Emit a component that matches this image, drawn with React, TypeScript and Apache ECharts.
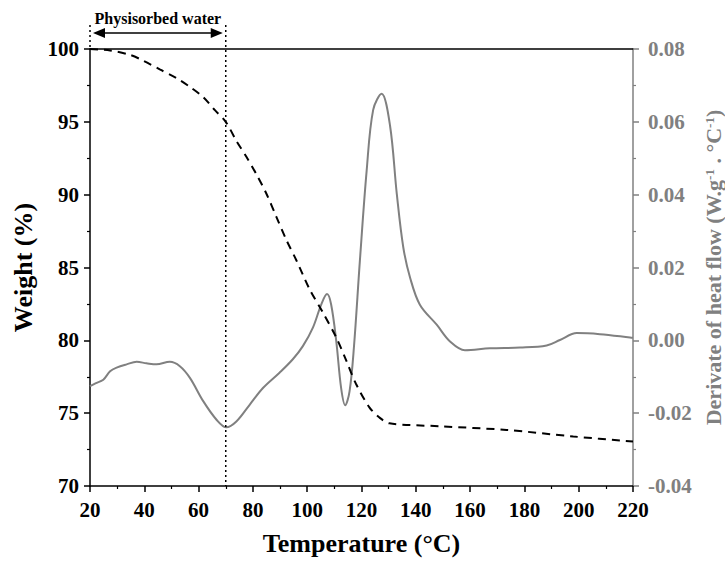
import React, { useEffect, useRef } from "react";
import * as echarts from "echarts";

const tgTemp = [20, 27.4, 34.7, 39.6, 45.7, 51.9, 56.8, 61.7, 66, 70, 73.9, 77.6, 81.3, 84.9, 88.6, 92.3, 96, 100.9, 105.8, 110.7, 114.4, 118, 122.9, 126.6, 130.3, 148.9, 173.4, 198, 220];
const tgWeight = [100, 99.9, 99.6, 99.2, 98.6, 98.0, 97.4, 96.7, 95.8, 95.0, 93.7, 92.6, 91.4, 90.1, 88.5, 86.9, 85.5, 83.5, 81.9, 80.2, 78.6, 77.0, 75.4, 74.7, 74.3, 74.1, 73.85, 73.4, 73.05];

const dtgTemp = [20, 22, 24.9, 27.4, 29.8, 33.5, 37.2, 40.8, 44.5, 49.4, 53.1, 56.8, 61.7, 66.6, 70.2, 73.9, 78.8, 83.7, 89.8, 94.7, 98.4, 102.1, 105.2, 107.3, 108.8, 110.7, 112.5, 114, 115.6, 117.2, 119.4, 121.9, 124.3, 127.4, 130.5, 133, 135.4, 137.9, 141.5, 147.7, 152.6, 158.1, 167.3, 178.4, 188.2, 193.1, 199.3, 207.8, 218.9, 220];
const dtgValue = [-0.0126, -0.0118, -0.0108, -0.0085, -0.0075, -0.0066, -0.0059, -0.0063, -0.0066, -0.0059, -0.0071, -0.0103, -0.0167, -0.0218, -0.0239, -0.0223, -0.0177, -0.0131, -0.0089, -0.0052, -0.0016, 0.0035, 0.0099, 0.0127, 0.0099, -0.0002, -0.0131, -0.0178, -0.014, -0.002, 0.0218, 0.0466, 0.0633, 0.0677, 0.059, 0.0402, 0.0255, 0.0172, 0.0098, 0.0043, -0.0003, -0.0027, -0.0022, -0.002, -0.0014, 0.0001, 0.002, 0.0017, 0.0008, 0.0007];

const xTicks = { min: 20, max: 220, interval: 20 };
const weightTicks = { min: 70, max: 100, interval: 5 };
const dtgTicks = { min: -0.04, max: 0.08, interval: 0.02 };

const FONT = "'Liberation Serif', 'Times New Roman', serif";
const GRAY = "#808080";
const TICK_FS = 21;
const TITLE_FS = 26;
const RIGHT_TITLE_FS = 22;

export default function App() {
  const ref = useRef<HTMLDivElement>(null);
  useEffect(() => {
    if (!ref.current) return;
    const chart = echarts.init(ref.current, undefined, { renderer: "svg" });
    const labelStyle = { fontFamily: FONT, fontWeight: "bold", fontSize: TICK_FS, color: "#000" };
    const titleStyle = { fontFamily: FONT, fontWeight: "bold", fontSize: TITLE_FS, color: "#000" };
    chart.setOption({
      animation: false,
      backgroundColor: "#fff",
      grid: { left: 90, right: 92, top: 49, bottom: 76, containLabel: false, outerBoundsMode: "none" },
      xAxis: [
        {
          type: "value",
          ...xTicks,
          position: "bottom",
          name: "Temperature (°C)",
          nameLocation: "middle",
          nameGap: 44,
          nameTextStyle: titleStyle,
          axisLine: { onZero: false, lineStyle: { color: "#000", width: 1.5 } },
          axisTick: { length: 6, lineStyle: { color: "#000", width: 1.5 } },
          minorTick: { show: true, splitNumber: 2, length: 3, lineStyle: { color: "#000", width: 1.2 } },
          axisLabel: { ...labelStyle, margin: 13 },
          splitLine: { show: false },
        },
        {
          type: "value",
          ...xTicks,
          position: "top",
          axisLine: { onZero: false, lineStyle: { color: "#000", width: 1.5 } },
          axisTick: { show: false },
          axisLabel: { show: false },
          splitLine: { show: false },
        },
      ],
      yAxis: [
        {
          type: "value",
          ...weightTicks,
          position: "left",
          name: "Weight (%)",
          nameLocation: "middle",
          nameRotate: 90,
          nameGap: 49,
          nameTextStyle: titleStyle,
          axisLine: { show: true, onZero: false, lineStyle: { color: "#000", width: 1.5 } },
          axisTick: { show: true, length: 6, lineStyle: { color: "#000", width: 1.5 } },
          minorTick: { show: true, splitNumber: 2, length: 3, lineStyle: { color: "#000", width: 1.2 } },
          axisLabel: { ...labelStyle, margin: 11 },
          splitLine: { show: false },
        },
        {
          type: "value",
          ...dtgTicks,
          position: "right",
          name: "{n|Derivate of heat flow (W.g}{s|-1}{n| . °C}{s|-1}{n|)}",
          nameLocation: "middle",
          nameRotate: 90,
          nameGap: 64,
          nameTextStyle: {
            ...titleStyle,
            fontSize: RIGHT_TITLE_FS,
            color: GRAY,
            rich: {
              n: { fontFamily: FONT, fontWeight: "bold", fontSize: RIGHT_TITLE_FS, color: GRAY, verticalAlign: "bottom" },
              s: { fontFamily: FONT, fontWeight: "bold", fontSize: 13, color: GRAY, verticalAlign: "top" },
            },
          },
          axisLine: { show: true, onZero: false, lineStyle: { color: GRAY, width: 1.5 } },
          axisTick: { show: true, length: 6, lineStyle: { color: GRAY, width: 1.5 } },
          minorTick: { show: true, splitNumber: 2, length: 3, lineStyle: { color: GRAY, width: 1.2 } },
          axisLabel: {
            ...labelStyle,
            color: GRAY,
            margin: 15,
            formatter: (v: number) => v.toFixed(2),
          },
          splitLine: { show: false },
        },
      ],
      series: [
        {
          name: "Weight",
          type: "line",
          xAxisIndex: 0,
          yAxisIndex: 0,
          data: tgTemp.map((t, i) => [t, tgWeight[i]]),
          showSymbol: false,
          smooth: 0.3,
          lineStyle: { color: "#000", width: 2, type: [8, 6] },
          z: 3,
        },
        {
          name: "DTG",
          type: "line",
          xAxisIndex: 0,
          yAxisIndex: 1,
          data: dtgTemp.map((t, i) => [t, dtgValue[i]]),
          showSymbol: false,
          smooth: 0.35,
          lineStyle: { color: GRAY, width: 2 },
          z: 2,
        },
      ],
    });

    const xl = chart.convertToPixel({ xAxisIndex: 0 }, 20) as number;
    const x70 = chart.convertToPixel({ xAxisIndex: 0 }, 70) as number;
    const yTop = chart.convertToPixel({ yAxisIndex: 0 }, 100) as number;
    const yBot = chart.convertToPixel({ yAxisIndex: 0 }, 70) as number;
    const ya = yTop - 16;
    const dotted = { stroke: "#000", lineWidth: 1.5, lineDash: [2, 3] };
    chart.setOption({
      graphic: [
        { type: "line", shape: { x1: xl, y1: yTop - 24, x2: xl, y2: yTop }, style: dotted, z: 10 },
        { type: "line", shape: { x1: x70, y1: yTop - 24, x2: x70, y2: yBot }, style: dotted, z: 10 },
        { type: "line", shape: { x1: xl + 8, y1: ya, x2: x70 - 8, y2: ya }, style: { stroke: "#000", lineWidth: 1.5 }, z: 10 },
        { type: "polygon", shape: { points: [[xl + 3, ya], [xl + 15, ya - 5], [xl + 15, ya + 5]] }, style: { fill: "#000" }, z: 10 },
        { type: "polygon", shape: { points: [[x70 - 3, ya], [x70 - 15, ya - 5], [x70 - 15, ya + 5]] }, style: { fill: "#000" }, z: 10 },
        {
          type: "text",
          x: (xl + x70) / 2,
          y: yTop - 31,
          style: {
            text: "Physisorbed water",
            font: `bold 16px ${FONT}`,
            fill: "#000",
            align: "center",
            verticalAlign: "middle",
          },
          z: 10,
        },
      ],
    });
    return () => chart.dispose();
  }, []);
  return <div ref={ref} style={{ position: "fixed", left: 0, top: 0, width: 725, height: 562 }} />;
}
